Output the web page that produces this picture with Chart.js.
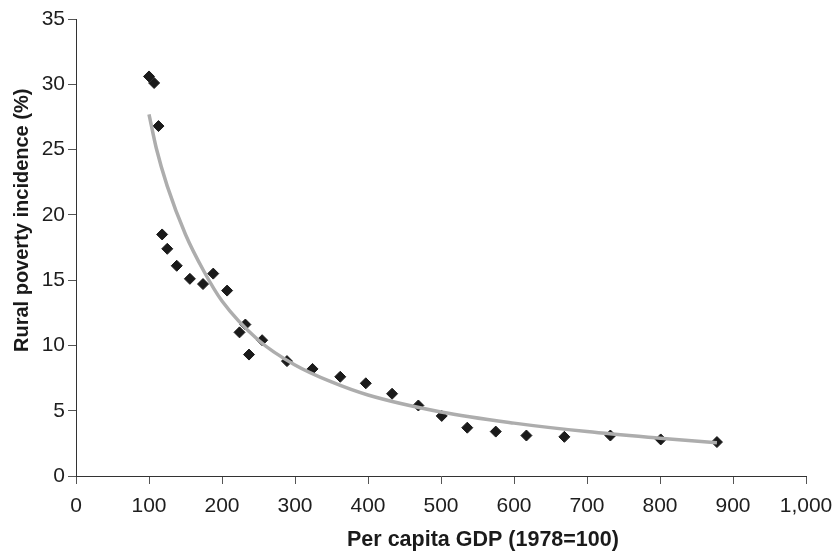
<!DOCTYPE html>
<html>
<head>
<meta charset="utf-8">
<script src="https://cdn.jsdelivr.net/npm/chart.js@4.4.1/dist/chart.umd.min.js"></script>
<style>
  html, body { margin: 0; padding: 0; background: #fff; }
  #wrap { width: 832px; height: 552px; }
</style>
</head>
<body>
<div id="wrap"><canvas id="poverty-chart" width="832" height="552"></canvas></div>
<script>
// observed points: per capita GDP (1978=100) vs rural poverty incidence (%)
var gdp = [100, 107, 113, 118, 125, 138, 156, 174, 188, 207, 224, 232, 237, 255,
           289, 324, 362, 397, 433, 469, 501, 536, 575, 617, 669, 732, 801, 878];
var poverty = [30.6, 30.1, 26.8, 18.5, 17.4, 16.1, 15.1, 14.7, 15.5, 14.2, 11.0, 11.6, 9.3, 10.4,
               8.8, 8.2, 7.6, 7.1, 6.3, 5.4, 4.6, 3.7, 3.4, 3.1, 3.0, 3.1, 2.8, 2.6];

// trend curve
var trendX = [100, 110, 125, 150, 175, 200, 250, 300, 350, 400, 500, 600, 700, 800, 878];
var trendY = [27.7, 25.1, 22.2, 18.5, 15.7, 13.4, 10.4, 8.5, 7.2, 6.2, 4.9, 4.05, 3.4, 2.9, 2.55];

var xTitle = "Per capita GDP (1978=100)";
var yTitle = "Rural poverty incidence (%)";

var FONT = "'Liberation Sans', Arial, Helvetica, sans-serif";

function pairs(xs, ys) {
  return xs.map(function(x, i) { return { x: x, y: ys[i] }; });
}

// axis titles, placed where the original has them
var axisTitles = {
  id: "axisTitles",
  afterDraw: function(chart) {
    var ctx = chart.ctx;
    ctx.save();
    ctx.fillStyle = "#1a1a1a";
    ctx.font = "bold 21.5px " + FONT;
    ctx.textAlign = "left";
    ctx.textBaseline = "alphabetic";
    ctx.fillText(xTitle, 347, 546);
    ctx.translate(27.5, 352);
    ctx.rotate(-Math.PI / 2);
    ctx.font = "bold 20px " + FONT;
    ctx.fillText(yTitle, 0, 0);
    ctx.restore();
  }
};

var config = {
  type: "scatter",
  data: {
    datasets: [
      {
        label: "Trend",
        type: "line",
        data: pairs(trendX, trendY),
        borderColor: "#adadad",
        borderWidth: 3.5,
        pointRadius: 0,
        fill: false,
        cubicInterpolationMode: "monotone",
        order: 0
      },
      {
        label: "Rural poverty incidence",
        data: pairs(gdp, poverty),
        pointStyle: "rectRot",
        pointRadius: 5.5,
        pointBackgroundColor: "#1a1a1a",
        pointBorderColor: "#1a1a1a",
        pointBorderWidth: 1,
        order: 1
      }
    ]
  },
  options: {
    responsive: false,
    animation: false,
    events: [],
    layout: { padding: { top: 19, right: 26, left: 0, bottom: 0 } },
    plugins: {
      legend: { display: false },
      tooltip: { enabled: false }
    },
    scales: {
      x: {
        type: "linear",
        min: 0,
        max: 1000,
        afterFit: function(scale) {
          scale.height = 76;
          scale.paddingLeft = 0;
          scale.paddingRight = 0;
        },
        ticks: {
          stepSize: 100,
          padding: 10,
          color: "#1e1e1e",
          font: { family: FONT, size: 21 },
          maxRotation: 0,
          callback: function(v) { return v.toLocaleString("en-US"); }
        },
        grid: { drawOnChartArea: false, tickLength: 8, color: "#555" },
        border: { color: "#333", width: 1 }
      },
      y: {
        type: "linear",
        min: 0,
        max: 35,
        afterFit: function(scale) { scale.width = 76; },
        ticks: {
          stepSize: 5,
          padding: 3,
          color: "#1e1e1e",
          font: { family: FONT, size: 21 }
        },
        grid: { drawOnChartArea: false, tickLength: 8, color: "#555" },
        border: { color: "#333", width: 1 }
      }
    }
  },
  plugins: [axisTitles]
};

window.onload = function() {
  var ctx = document.getElementById("poverty-chart").getContext("2d");
  window.povertyChart = new Chart(ctx, config);
};
</script>
</body>
</html>
